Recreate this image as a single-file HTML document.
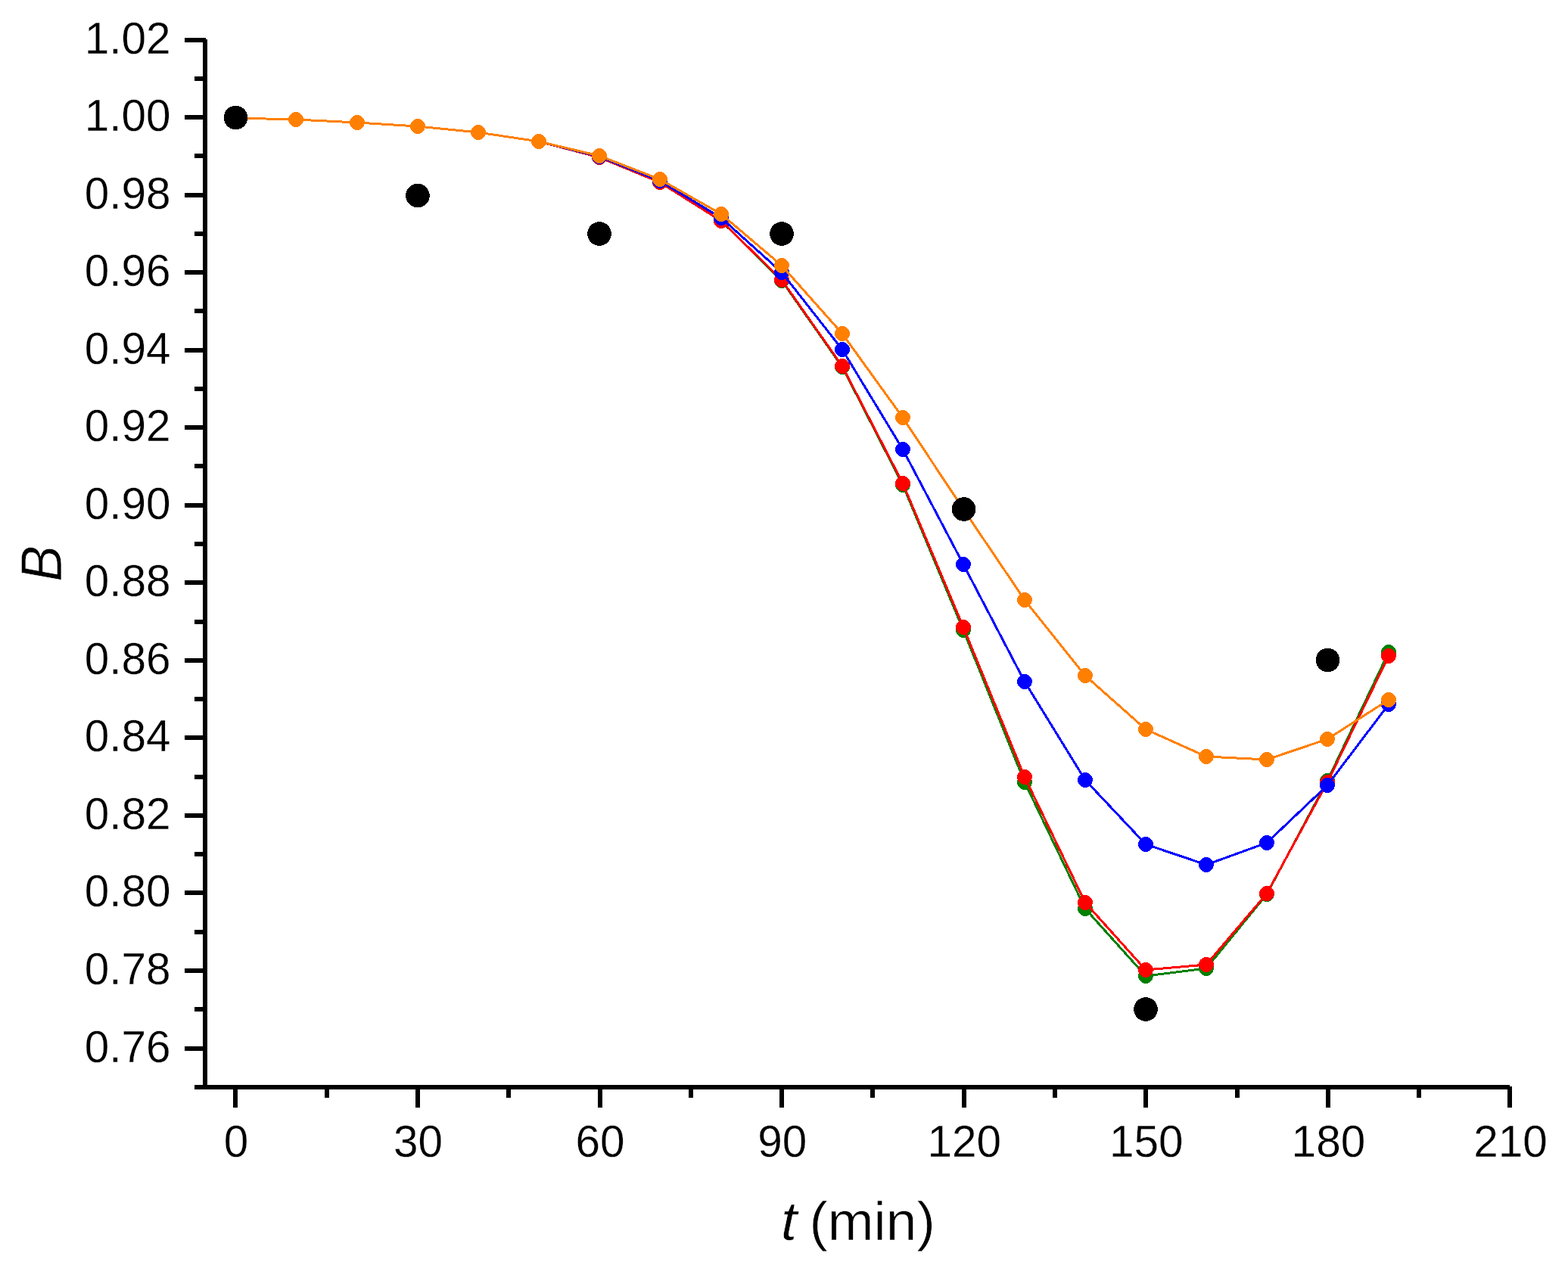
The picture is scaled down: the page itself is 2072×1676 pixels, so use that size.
<!DOCTYPE html>
<html lang="en"><head><meta charset="utf-8"><title>B vs t (min)</title>
<style>
html,body{margin:0;padding:0;background:#fff;}
body{width:2072px;height:1676px;overflow:hidden;}
svg{display:block;}
text{font-family:"Liberation Sans",Arial,Helvetica,sans-serif;fill:#000;stroke:#fff;stroke-width:0.3px;}
.tk{font-size:58.5px;}
.lb{font-size:73px;stroke-width:0.6px;}
</style></head><body>
<svg width="2072" height="1676" viewBox="0 0 2072 1676">
<rect x="0" y="0" width="2072" height="1676" fill="#fff"/>
<g fill="#000" shape-rendering="crispEdges">
<rect x="268" y="52" width="6" height="1388"/>
<rect x="257" y="1434" width="1738" height="6"/>
<rect x="244" y="50" width="28" height="6"/>
<rect x="244" y="152" width="26" height="6"/>
<rect x="244" y="255" width="26" height="6"/>
<rect x="244" y="357" width="26" height="6"/>
<rect x="244" y="460" width="26" height="6"/>
<rect x="244" y="562" width="26" height="6"/>
<rect x="244" y="665" width="26" height="6"/>
<rect x="244" y="767" width="26" height="6"/>
<rect x="244" y="870" width="26" height="6"/>
<rect x="244" y="972" width="26" height="6"/>
<rect x="244" y="1075" width="26" height="6"/>
<rect x="244" y="1177" width="26" height="6"/>
<rect x="244" y="1280" width="26" height="6"/>
<rect x="244" y="1383" width="26" height="6"/>
<rect x="257" y="101" width="13" height="6"/>
<rect x="257" y="203" width="13" height="6"/>
<rect x="257" y="306" width="13" height="6"/>
<rect x="257" y="408" width="13" height="6"/>
<rect x="257" y="511" width="13" height="6"/>
<rect x="257" y="613" width="13" height="6"/>
<rect x="257" y="716" width="13" height="6"/>
<rect x="257" y="819" width="13" height="6"/>
<rect x="257" y="921" width="13" height="6"/>
<rect x="257" y="1024" width="13" height="6"/>
<rect x="257" y="1126" width="13" height="6"/>
<rect x="257" y="1229" width="13" height="6"/>
<rect x="257" y="1331" width="13" height="6"/>
<rect x="308" y="1436" width="6" height="28"/>
<rect x="549" y="1436" width="6" height="28"/>
<rect x="790" y="1436" width="6" height="28"/>
<rect x="1030" y="1436" width="6" height="28"/>
<rect x="1271" y="1436" width="6" height="28"/>
<rect x="1511" y="1436" width="6" height="28"/>
<rect x="1752" y="1436" width="6" height="28"/>
<rect x="1992" y="1436" width="6" height="28"/>
<rect x="429" y="1436" width="6" height="15"/>
<rect x="669" y="1436" width="6" height="15"/>
<rect x="910" y="1436" width="6" height="15"/>
<rect x="1150" y="1436" width="6" height="15"/>
<rect x="1391" y="1436" width="6" height="15"/>
<rect x="1632" y="1436" width="6" height="15"/>
<rect x="1872" y="1436" width="6" height="15"/>
</g>
<g class="tk" text-anchor="end">
<text x="225.6" y="70.8">1.02</text>
<text x="225.6" y="172.8">1.00</text>
<text x="225.6" y="275.8">0.98</text>
<text x="225.6" y="377.8">0.96</text>
<text x="225.6" y="480.8">0.94</text>
<text x="225.6" y="582.8">0.92</text>
<text x="225.6" y="685.8">0.90</text>
<text x="225.6" y="787.8">0.88</text>
<text x="225.6" y="890.8">0.86</text>
<text x="225.6" y="992.8">0.84</text>
<text x="225.6" y="1095.8">0.82</text>
<text x="225.6" y="1197.8">0.80</text>
<text x="225.6" y="1300.8">0.78</text>
<text x="225.6" y="1403.8">0.76</text>
</g>
<g class="tk" text-anchor="middle">
<text x="312.0" y="1529.2">0</text>
<text x="552.6" y="1529.2">30</text>
<text x="793.1" y="1529.2">60</text>
<text x="1033.7" y="1529.2">90</text>
<text x="1274.3" y="1529.2">120</text>
<text x="1514.8" y="1529.2">150</text>
<text x="1755.4" y="1529.2">180</text>
<text x="1996.0" y="1529.2">210</text>
</g>
<text class="lb" transform="translate(1031.7,1639.3) scale(1.06,1.0)" font-style="italic">t</text>
<text class="lb" x="1069.5" y="1639">(min)</text>
<text class="lb" transform="translate(81,745) rotate(-90) scale(0.981,1.042)" text-anchor="middle" font-style="italic">B</text>
<g fill="#008000" stroke="none" shape-rendering="crispEdges">
<polyline points="311,156 391,158 472,162 552,167 632,175 712,187 792,208 872,241 953,292 1033,371 1113,485 1193,641 1273,833 1354,1034 1434,1201 1514,1290 1594,1280 1674,1182 1754,1032 1835,862" fill="none" stroke="#008000" stroke-width="3.0" stroke-linejoin="round"/>
<circle cx="311" cy="156" r="10"/>
<circle cx="391" cy="158" r="10"/>
<circle cx="472" cy="162" r="10"/>
<circle cx="552" cy="167" r="10"/>
<circle cx="632" cy="175" r="10"/>
<circle cx="712" cy="187" r="10"/>
<circle cx="792" cy="208" r="10"/>
<circle cx="872" cy="241" r="10"/>
<circle cx="953" cy="292" r="10"/>
<circle cx="1033" cy="371" r="10"/>
<circle cx="1113" cy="485" r="10"/>
<circle cx="1193" cy="641" r="10"/>
<circle cx="1273" cy="833" r="10"/>
<circle cx="1354" cy="1034" r="10"/>
<circle cx="1434" cy="1201" r="10"/>
<circle cx="1514" cy="1290" r="10"/>
<circle cx="1594" cy="1280" r="10"/>
<circle cx="1674" cy="1182" r="10"/>
<circle cx="1754" cy="1032" r="10"/>
<circle cx="1835" cy="862" r="10"/>
</g>
<g fill="#ff0000" stroke="none" shape-rendering="crispEdges">
<polyline points="311,156 391,158 472,162 552,167 632,175 712,187 792,208 872,241 953,292 1033,370 1113,484 1193,639 1273,829 1354,1027 1434,1193 1514,1282 1594,1275 1674,1181 1754,1034 1835,867" fill="none" stroke="#ff0000" stroke-width="3.0" stroke-linejoin="round"/>
<circle cx="311" cy="156" r="10"/>
<circle cx="391" cy="158" r="10"/>
<circle cx="472" cy="162" r="10"/>
<circle cx="552" cy="167" r="10"/>
<circle cx="632" cy="175" r="10"/>
<circle cx="712" cy="187" r="10"/>
<circle cx="792" cy="208" r="10"/>
<circle cx="872" cy="241" r="10"/>
<circle cx="953" cy="292" r="10"/>
<circle cx="1033" cy="370" r="10"/>
<circle cx="1113" cy="484" r="10"/>
<circle cx="1193" cy="639" r="10"/>
<circle cx="1273" cy="829" r="10"/>
<circle cx="1354" cy="1027" r="10"/>
<circle cx="1434" cy="1193" r="10"/>
<circle cx="1514" cy="1282" r="10"/>
<circle cx="1594" cy="1275" r="10"/>
<circle cx="1674" cy="1181" r="10"/>
<circle cx="1754" cy="1034" r="10"/>
<circle cx="1835" cy="867" r="10"/>
</g>
<g fill="#0000ff" stroke="none" shape-rendering="crispEdges">
<polyline points="311,156 391,158 472,162 552,167 632,175 712,187 792,207 872,239 953,288 1033,360 1113,462 1193,594 1273,746 1354,901 1434,1031 1514,1116 1594,1143 1674,1114 1754,1038 1835,931" fill="none" stroke="#0000ff" stroke-width="3.0" stroke-linejoin="round"/>
<circle cx="311" cy="156" r="10"/>
<circle cx="391" cy="158" r="10"/>
<circle cx="472" cy="162" r="10"/>
<circle cx="552" cy="167" r="10"/>
<circle cx="632" cy="175" r="10"/>
<circle cx="712" cy="187" r="10"/>
<circle cx="792" cy="207" r="10"/>
<circle cx="872" cy="239" r="10"/>
<circle cx="953" cy="288" r="10"/>
<circle cx="1033" cy="360" r="10"/>
<circle cx="1113" cy="462" r="10"/>
<circle cx="1193" cy="594" r="10"/>
<circle cx="1273" cy="746" r="10"/>
<circle cx="1354" cy="901" r="10"/>
<circle cx="1434" cy="1031" r="10"/>
<circle cx="1514" cy="1116" r="10"/>
<circle cx="1594" cy="1143" r="10"/>
<circle cx="1674" cy="1114" r="10"/>
<circle cx="1754" cy="1038" r="10"/>
<circle cx="1835" cy="931" r="10"/>
</g>
<g fill="#ff8000" stroke="none" shape-rendering="crispEdges">
<polyline points="311,156 391,158 472,162 552,167 632,175 712,187 792,206 872,237 953,283 1033,351 1113,441 1193,552 1273,673 1354,793 1434,893 1514,964 1594,1000 1674,1004 1754,977 1835,925" fill="none" stroke="#ff8000" stroke-width="3.0" stroke-linejoin="round"/>
<circle cx="311" cy="156" r="10"/>
<circle cx="391" cy="158" r="10"/>
<circle cx="472" cy="162" r="10"/>
<circle cx="552" cy="167" r="10"/>
<circle cx="632" cy="175" r="10"/>
<circle cx="712" cy="187" r="10"/>
<circle cx="792" cy="206" r="10"/>
<circle cx="872" cy="237" r="10"/>
<circle cx="953" cy="283" r="10"/>
<circle cx="1033" cy="351" r="10"/>
<circle cx="1113" cy="441" r="10"/>
<circle cx="1193" cy="552" r="10"/>
<circle cx="1273" cy="673" r="10"/>
<circle cx="1354" cy="793" r="10"/>
<circle cx="1434" cy="893" r="10"/>
<circle cx="1514" cy="964" r="10"/>
<circle cx="1594" cy="1000" r="10"/>
<circle cx="1674" cy="1004" r="10"/>
<circle cx="1754" cy="977" r="10"/>
<circle cx="1835" cy="925" r="10"/>
</g>
<g fill="#000" shape-rendering="crispEdges">
<circle cx="311.5" cy="155.5" r="15.8"/>
<circle cx="552" cy="258.5" r="15.8"/>
<circle cx="792" cy="309" r="15.8"/>
<circle cx="1033" cy="309" r="15.8"/>
<circle cx="1273.5" cy="673" r="15.8"/>
<circle cx="1514" cy="1334" r="15.8"/>
<circle cx="1754.5" cy="872.5" r="15.8"/>
</g>
</svg>
</body></html>
